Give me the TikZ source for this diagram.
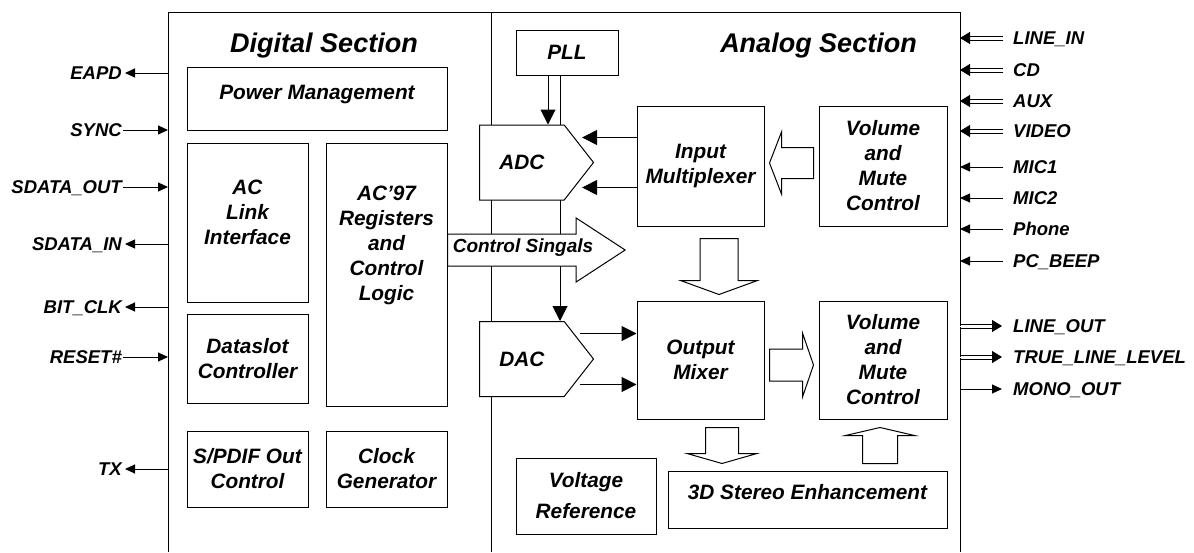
\documentclass[tikz,border=0pt]{standalone}
\usepackage{fontspec}
\setmainfont{Liberation Sans}
\usetikzlibrary{calc,positioning,arrows.meta,shapes.symbols}

\newcommand{\titlefont}{\fontsize{27}{32}\selectfont\bfseries\itshape}
\newcommand{\blockfont}{\fontsize{20.8}{25}\selectfont\bfseries\itshape}
\newcommand{\pinfont}{\fontsize{18.5}{22}\selectfont\bfseries\itshape}

% hollow block arrow: tail, tip, shaft half width, head half width, head length
\newcommand{\blockarrow}[5]{%
  \draw[blk] ($(#1)!#3!90:(#2)$) -- ($(#2)!#5!(#1)!#3!-90:(#1)$) -- ($(#2)!#5!(#1)!#4!-90:(#1)$)
    -- (#2) -- ($(#2)!#5!(#1)!#4!90:(#1)$) -- ($(#2)!#5!(#1)!#3!90:(#1)$) -- ($(#1)!#3!-90:(#2)$) -- cycle;}

\begin{document}
\begin{tikzpicture}[
  x=1pt, y=-1pt,
  box/.style={draw, line width=1pt, align=center, font=\blockfont, inner sep=0pt},
  conv/.style={draw, fill=white, line width=1pt, signal, signal to=east, signal pointer angle=104,
    minimum width=114pt, minimum height=75pt, font=\blockfont, inner sep=0pt},
  title/.style={font=\titlefont},
  pin/.style={font=\pinfont, inner sep=1pt, text height=13.2pt, text depth=0pt},
  frame/.style={line width=1pt},
  arr/.style={-{Triangle[length=15pt,width=15pt]}, line width=1pt},
  sigarr/.style={-{Triangle[length=10pt,width=9pt]}, line width=1pt},
  dbl/.style={draw=white, line width=0.8pt, -{Triangle[length=10pt,width=12pt,black]},
    preaction={draw=black, arrows=-, shorten >=6pt, transform canvas={yshift=2.3pt}},
    preaction={draw=black, arrows=-, shorten >=6pt, transform canvas={yshift=-2.3pt}}},
  blk/.style={draw, fill=white, line width=1pt}
]
\useasboundingbox (0,0) rectangle (1194,552);

% chip outline
\coordinate (fl) at (168,12);
\coordinate (fr) at (960,12);
\coordinate (fm) at (491,12);
\draw[frame] (168,552) -- (fl) -- (fr) -- (960,552);
\draw[frame] (fm) -- (491,552);

\node[title] (dtitle) at (324,45.5) {Digital Section};
\node[title] (atitle) at (818.5,45.5) {Analog Section};

% digital section
\node[box, minimum width=260pt, minimum height=63pt, text depth=12pt] (pwr) at (317,98.5) {Power Management};
\node[box, minimum width=121pt, minimum height=159pt, text depth=20pt] (acl) at (247.5,222.5) {AC\\Link\\Interface};
\node[box, minimum width=121pt, minimum height=263pt, text depth=63pt] (acr) at (386.5,274.5) {AC’97\\Registers\\and\\Control\\Logic};
\node[box, minimum width=121pt, minimum height=89pt] (dsc) at (247.5,358.5) {Dataslot\\Controller};
\node[box, minimum width=121pt, minimum height=76pt] (spdif) at (247.5,469) {S/PDIF Out\\Control};
\node[box, minimum width=121pt, minimum height=76pt] (clk) at (386.5,469) {Clock\\Generator};

% analog section
\node[box, minimum width=102pt, minimum height=45pt] (pll) at (567,52.5) {PLL};
\node[box, minimum width=127pt, minimum height=120pt] (imux) at (700.5,166) {Input\\Multiplexer};
\node[box, minimum width=128pt, minimum height=120pt] (vmca) at (883,166) {Volume\\and\\Mute\\Control};
\node[box, minimum width=127pt, minimum height=118pt] (omix) at (700.5,360) {Output\\Mixer};
\node[box, minimum width=128pt, minimum height=118pt] (vmcb) at (883,360) {Volume\\and\\Mute\\Control};
\node[box, minimum width=140pt, minimum height=76pt] (vref) at (586,496) {Voltage\\[6pt]Reference};
\node[box, minimum width=279pt, minimum height=57pt, text depth=16pt] (s3d) at (807.5,499.5) {3D Stereo Enhancement};

% clock lines from PLL (behind the converters)
\coordinate (dacin) at ([xshift=-7pt]pll.south);
\draw[arr] (dacin) -- (dacin |- 0,321);

\node[conv, anchor=west] (adc) at (479,162.5) {ADC};
\node[conv, anchor=west] (dac) at (479,359) {DAC};

\draw[arr] ([xshift=-19pt]pll.south) -- ([xshift=-19pt]pll.south |- adc.north);
\draw[arr] ([yshift=25pt]adc.east -| imux.west) -- ([xshift=-12pt,yshift=25pt]adc.east);
\draw[arr] ([yshift=-25pt]adc.east -| imux.west) -- ([xshift=-12pt,yshift=-25pt]adc.east);
\draw[arr] ([xshift=-14pt,yshift=25.5pt]dac.east) -- ([yshift=25.5pt]dac.east -| omix.west);
\draw[arr] ([xshift=-14pt,yshift=-25.5pt]dac.east) -- ([yshift=-25.5pt]dac.east -| omix.west);

% wide data paths
\coordinate (mx1) at ([xshift=-5pt,yshift=3pt]vmca.west);
\coordinate (mx2) at ([xshift=5pt,yshift=3pt]imux.east);
\blockarrow{mx1}{mx2}{15.5pt}{31pt}{12pt}
\coordinate (md1) at ([xshift=18.5pt,yshift=-12pt]imux.south);
\coordinate (md2) at ([xshift=18.5pt,yshift=6pt]omix.north);
\blockarrow{md1}{md2}{19pt}{38.5pt}{14pt}
\coordinate (ct1) at ([yshift=24.5pt]acr.east);
\coordinate (ct2) at ([xshift=31pt]adc.east |- ct1);
\blockarrow{ct1}{ct2}{16pt}{32pt}{49pt}
\node[font=\fontsize{19}{22}\selectfont\bfseries\itshape] (ctltxt) at (523,248) {Control Singals};
\coordinate (ov1) at ([xshift=5pt,yshift=-5pt]omix.east);
\coordinate (ov2) at ([xshift=-5pt,yshift=-5pt]vmcb.west);
\blockarrow{ov1}{ov2}{16pt}{32pt}{11pt}
\coordinate (od1) at ([xshift=21.5pt,yshift=-8pt]omix.south);
\coordinate (od2) at ([yshift=7pt]od1 |- s3d.north);
\blockarrow{od1}{od2}{16.5pt}{35pt}{10pt}
\coordinate (su2) at ([xshift=-3pt,yshift=-8pt]vmcb.south);
\coordinate (su1) at ([yshift=7pt]su2 |- s3d.north);
\blockarrow{su1}{su2}{17.5pt}{34.5pt}{8pt}

% digital pins
\node[pin, anchor=east] (eapd) at (123,73) {EAPD};
\node[pin, anchor=east] (sync) at (123,130) {SYNC};
\node[pin, anchor=east] (sdo) at (123,187) {SDATA\_OUT};
\node[pin, anchor=east] (sdi) at (123,244) {SDATA\_IN};
\node[pin, anchor=east] (bclk) at (123,307) {BIT\_CLK};
\node[pin, anchor=east] (rst) at (123,357) {RESET\#};
\node[pin, anchor=east] (tx) at (123,469) {TX};

\draw[sigarr] (eapd.east -| fl) -- ([xshift=2pt]eapd.east);
\draw[sigarr] (sync.east) -- (sync.east -| fl);
\draw[sigarr] (sdo.east) -- (sdo.east -| fl);
\draw[sigarr] (sdi.east -| fl) -- ([xshift=2pt]sdi.east);
\draw[sigarr] (bclk.east -| fl) -- ([xshift=2pt]bclk.east);
\draw[sigarr] (rst.east) -- (rst.east -| fl);
\draw[sigarr] (tx.east -| fl) -- ([xshift=2pt]tx.east);

% analog pins
\node[pin, anchor=west] (linein) at (1012,38) {LINE\_IN};
\node[pin, anchor=west] (cd) at (1012,70) {CD};
\node[pin, anchor=west] (aux) at (1012,101) {AUX};
\node[pin, anchor=west] (video) at (1012,131) {VIDEO};
\node[pin, anchor=west] (mica) at (1012,167) {MIC1};
\node[pin, anchor=west] (micb) at (1012,198) {MIC2};
\node[pin, anchor=west] (phone) at (1012,229) {Phone};
\node[pin, anchor=west] (beep) at (1012,261) {PC\_BEEP};
\node[pin, anchor=west] (lineout) at (1012,326) {LINE\_OUT};
\node[pin, anchor=west] (tll) at (1012,357) {TRUE\_LINE\_LEVEL};
\node[pin, anchor=west] (mono) at (1012,389) {MONO\_OUT};

\draw[dbl] ([xshift=-9pt]linein.west) -- (linein.west -| fr);
\draw[dbl] ([xshift=-9pt]cd.west) -- (cd.west -| fr);
\draw[dbl] ([xshift=-9pt]aux.west) -- (aux.west -| fr);
\draw[dbl] ([xshift=-9pt]video.west) -- (video.west -| fr);
\draw[sigarr] ([xshift=-9pt]mica.west) -- (mica.west -| fr);
\draw[sigarr] ([xshift=-9pt]micb.west) -- (micb.west -| fr);
\draw[sigarr] ([xshift=-9pt]phone.west) -- (phone.west -| fr);
\draw[sigarr] ([xshift=-9pt]beep.west) -- (beep.west -| fr);
\draw[dbl] (lineout.west -| fr) -- ([xshift=-10pt]lineout.west);
\draw[dbl] (tll.west -| fr) -- ([xshift=-10pt]tll.west);
\draw[sigarr] (mono.west -| fr) -- ([xshift=-10pt]mono.west);
\end{tikzpicture}
\end{document}
